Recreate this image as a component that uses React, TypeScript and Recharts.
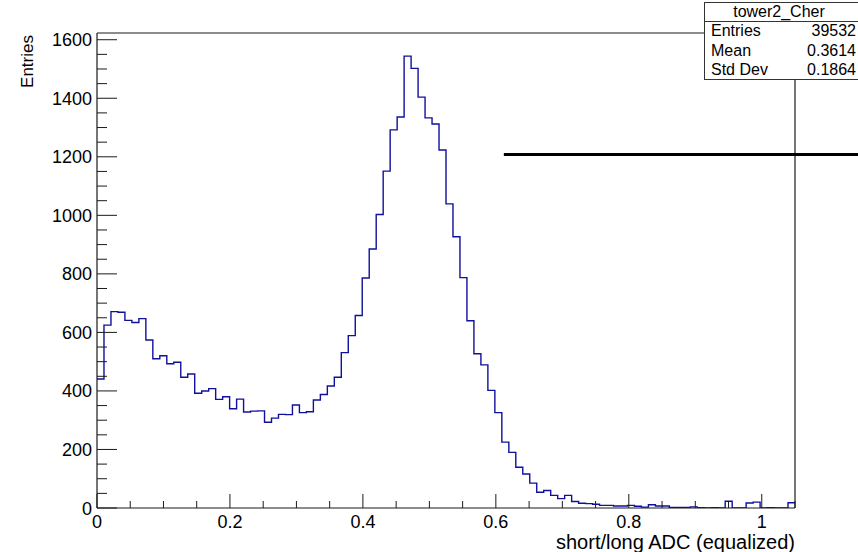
import React from 'react';
import { LineChart, Line, XAxis, YAxis, ReferenceLine } from 'recharts';

// ---- data ----
const HIST_NAME = 'tower2_Cher';
const X_TITLE = 'short/long ADC (equalized)';
const Y_TITLE = 'Entries';
const BIN_LOW = 0;
const BIN_WIDTH = 0.0105;
const counts = [
  441, 625, 671, 669, 641, 634, 647, 574, 510, 520,
  493, 498, 447, 458, 392, 400, 408, 371, 380, 339,
  372, 328, 331, 332, 293, 307, 320, 319, 352, 326,
  329, 369, 388, 417, 447, 531, 589, 658, 786, 885,
  1003, 1151, 1292, 1336, 1544, 1502, 1404, 1333, 1312, 1223,
  1039, 927, 787, 640, 527, 489, 402, 326, 225, 190,
  139, 116, 85, 54, 60, 43, 32, 43, 22, 16,
  15, 13, 9, 9, 7, 7, 9, 6, 3, 11,
  7, 7, 2, 2, 2, 4, 1, 0, 1, 0,
  23, 0, 0, 17, 20, 0, 1, 0, 0, 18,
];
const statLabels = ['Entries', 'Mean', 'Std Dev'];
const statValues = ['39532', '0.3614', '0.1864'];
const xTicks = [0, 0.05, 0.1, 0.15, 0.2, 0.25, 0.3, 0.35, 0.4, 0.45, 0.5, 0.55, 0.6, 0.65, 0.7, 0.75, 0.8, 0.85, 0.9, 0.95, 1, 1.05];
const xLabelTicks = [0, 0.2, 0.4, 0.6, 0.8, 1];
const yTicks = [0, 50, 100, 150, 200, 250, 300, 350, 400, 450, 500, 550, 600, 650, 700, 750, 800, 850, 900, 950, 1000, 1050, 1100, 1150, 1200, 1250, 1300, 1350, 1400, 1450, 1500, 1550, 1600];
const yLabelTicks = [0, 200, 400, 600, 800, 1000, 1200, 1400, 1600];
const markerLineY = 1208;
const markerLineX = [0.612, 1.4];

const X_MIN = 0;
const X_MAX = 1.05;
const Y_MAX = 1623;

const data = counts.map((c, i) => ({ x: BIN_LOW + i * BIN_WIDTH, y: c }));
data.push({ x: X_MAX, y: counts[counts.length - 1] });

const FONT = '"Liberation Sans", Arial, Helvetica, sans-serif';
const AX = '#1a1a1a';
const LABEL_SIZE = 18;

const isIn = (arr: number[], v: number) => arr.some((t) => Math.abs(t - v) < 1e-6);

const XTick = (props: any) => {
  const { x, y, payload } = props;
  const v = payload.value;
  const major = isIn(xLabelTicks, v);
  return (
    <g>
      <line x1={x} x2={x} y1={y} y2={y - (major ? 14 : 7)} stroke={AX} strokeWidth={1} />
      {major && (
        <text x={x} y={y + 20} textAnchor="middle" fontSize={LABEL_SIZE} fontFamily={FONT} fill="#000">
          {String(v)}
        </text>
      )}
    </g>
  );
};

const YTick = (props: any) => {
  const { x, y, payload } = props;
  const v = payload.value;
  const major = isIn(yLabelTicks, v);
  return (
    <g>
      <line x1={x} x2={x + (major ? 20 : 10)} y1={y} y2={y} stroke={AX} strokeWidth={1} />
      {major && (
        <text x={x - 5} y={y + 6.5} textAnchor="end" fontSize={LABEL_SIZE} fontFamily={FONT} fill="#000">
          {String(v)}
        </text>
      )}
    </g>
  );
};

export default function App() {
  const yAxisW = 60;
  const xAxisH = 30;
  const left = 97 - yAxisW;
  const top = 33;
  const right = 858 - 795;
  const bottom = 552 - 508 - xAxisH;
  return (
    <div style={{ position: 'absolute', left: 0, top: 0, width: 858, height: 552, background: '#fff' }}>
      <LineChart width={858} height={552} data={data} margin={{ top, right, bottom, left }}>
        <XAxis
          dataKey="x"
          type="number"
          domain={[X_MIN, X_MAX]}
          allowDataOverflow
          ticks={xTicks}
          interval={0}
          height={xAxisH}
          tickSize={0}
          tickMargin={0}
          tick={<XTick />}
          axisLine={{ stroke: AX, strokeWidth: 1.2 }}
          tickLine={false}
        />
        <YAxis
          type="number"
          domain={[0, Y_MAX]}
          allowDataOverflow
          ticks={yTicks}
          interval={0}
          width={yAxisW}
          tickSize={0}
          tickMargin={0}
          tick={<YTick />}
          axisLine={{ stroke: AX, strokeWidth: 1.2 }}
          tickLine={false}
        />
        <ReferenceLine y={Y_MAX} stroke={AX} strokeWidth={1} />
        <ReferenceLine x={X_MAX} stroke={AX} strokeWidth={1.2} />
        <Line
          dataKey="y"
          type="stepAfter"
          stroke="#10109c"
          strokeWidth={1.4}
          dot={false}
          activeDot={false}
          isAnimationActive={false}
        />
        <ReferenceLine
          segment={[{ x: markerLineX[0], y: markerLineY }, { x: markerLineX[1], y: markerLineY }]}
          ifOverflow="visible"
          stroke="#000"
          strokeWidth={3}
        />
      </LineChart>
      <svg
        width={858}
        height={552}
        style={{ position: 'absolute', left: 0, top: 0, pointerEvents: 'none' }}
      >
        <text
          transform="translate(33,35) rotate(-90)"
          textAnchor="end"
          fontSize={17}
          fontFamily={FONT}
          fill="#000"
        >
          {Y_TITLE}
        </text>
        <text x={795} y={549} textAnchor="end" fontSize={20} fontFamily={FONT} fill="#000">
          {X_TITLE}
        </text>
        <rect x={704.5} y={2.5} width={160} height={77} fill="#fff" stroke="#333" strokeWidth={1} />
        <line x1={704.5} x2={858} y1={21.5} y2={21.5} stroke="#333" strokeWidth={1} />
        <text x={779} y={17} textAnchor="middle" fontSize={16} fontFamily={FONT} fill="#000">
          {HIST_NAME}
        </text>
        {statLabels.map((l, i) => (
          <g key={l}>
            <text x={711} y={36 + i * 19.5} fontSize={16} fontFamily={FONT} fill="#000">
              {l}
            </text>
            <text x={856} y={36 + i * 19.5} textAnchor="end" fontSize={16} fontFamily={FONT} fill="#000">
              {statValues[i]}
            </text>
          </g>
        ))}
      </svg>
    </div>
  );
}
